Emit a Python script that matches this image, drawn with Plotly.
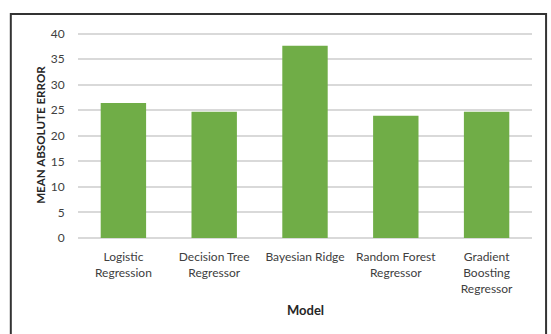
import plotly.graph_objects as go

# Model comparison: mean absolute error per regressor
models = [
    "Logistic<br>Regression",
    "Decision Tree<br>Regressor",
    "Bayesian Ridge",
    "Random Forest<br>Regressor",
    "Gradient<br>Boosting<br>Regressor",
]
mae_values = [26.4, 24.7, 37.6, 23.9, 24.7]
y_ticks = [0, 5, 10, 15, 20, 25, 30, 35, 40]

BAR_COLOR = "#70AD47"
GRID_COLOR = "#D9D9D9"
TEXT_COLOR = "#404040"
FONT = "Lato, 'Open Sans', sans-serif"

fig = go.Figure(
    go.Bar(
        x=models,
        y=mae_values,
        marker=dict(color=BAR_COLOR, line=dict(width=0)),
        hoverinfo="x+y",
    )
)

fig.update_layout(
    width=551,
    height=334,
    margin=dict(l=78, r=19, t=32, b=96),
    paper_bgcolor="white",
    plot_bgcolor="white",
    bargap=0.5,
    showlegend=False,
    font=dict(family=FONT, size=12, color=TEXT_COLOR),
    xaxis=dict(
        showgrid=False,
        showline=False,
        zeroline=False,
        ticks="outside",
        ticklen=8,
        tickcolor="rgba(0,0,0,0)",
        tickfont=dict(size=12, color=TEXT_COLOR),
    ),
    yaxis=dict(
        range=[0, 40.3],
        tickvals=y_ticks,
        showgrid=True,
        gridcolor=GRID_COLOR,
        gridwidth=1.5,
        zeroline=True,
        zerolinecolor=GRID_COLOR,
        zerolinewidth=1.5,
        showline=False,
        ticks="outside",
        ticklen=10,
        tickcolor="rgba(0,0,0,0)",
        tickfont=dict(size=12, color=TEXT_COLOR),
    ),
    annotations=[
        dict(
            text="<b>MEAN ABSOLUTE ERROR</b>",
            xref="paper", yref="paper",
            x=-0.084, y=0.5,
            xanchor="center", yanchor="middle",
            textangle=-90,
            showarrow=False,
            font=dict(size=11.6, color="#262626", family=FONT),
        ),
        dict(
            text="<b>Model</b>",
            xref="paper", yref="paper",
            x=0.5, y=-0.35,
            xanchor="center", yanchor="middle",
            showarrow=False,
            font=dict(size=13, color="#262626", family=FONT),
        ),
    ],
    shapes=[
        dict(
            type="rect",
            xref="paper", yref="paper",
            x0=-0.148, x1=1.031,
            y0=-0.5, y1=1.087,
            line=dict(color="#333333", width=2),
            fillcolor="rgba(0,0,0,0)",
            layer="above",
        )
    ],
)

fig.write_html("out.html")
